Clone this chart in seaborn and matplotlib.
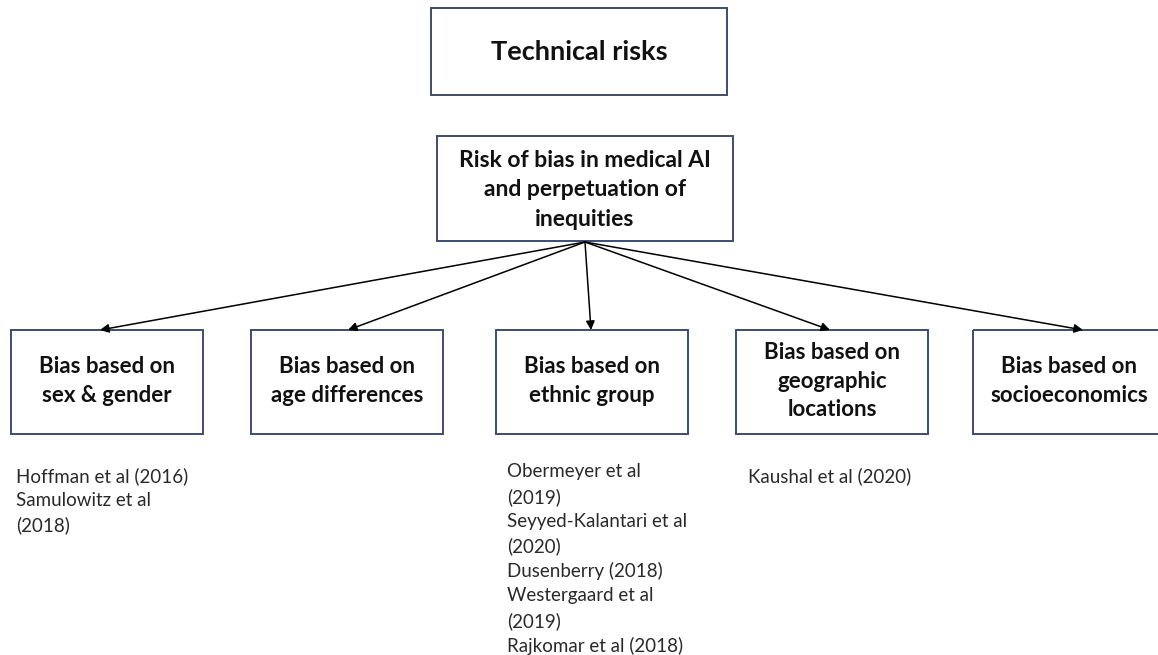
import matplotlib
matplotlib.use("Agg")
import matplotlib.pyplot as plt
from matplotlib.patches import Rectangle
import seaborn as sns

# ---- content ----
title_text = "Technical risks"
root_text = "Risk of bias in medical AI\nand perpetuation of\ninequities"
categories = [
    "Bias based on\nsex & gender",
    "Bias based on\nage differences",
    "Bias based on\nethnic group",
    "Bias based on\ngeographic\nlocations",
    "Bias based on\nsocioeconomics",
]
references = [
    ["Hoffman et al (2016)", "Samulowitz et al", "(2018)"],
    [],
    ["Obermeyer et al", "(2019)", "Seyyed-Kalantari et al", "(2020)",
     "Dusenberry (2018)", "Westergaard et al", "(2019)", "Rajkomar et al (2018)"],
    ["Kaushal et al (2020)"],
    [],
]

# ---- layout (pixels) ----
W, H = 1158, 655
box_left = [11, 251, 496, 736, 973]
box_w, box_top, box_h = 192, 330, 104
arrow_tips = [100, 348, 591, 830, 1083]
ref_x = [16, None, 507, 748, None]
ref_y0 = [476, None, 472, 476, None]
line_step = 24.8

sns.set_theme(style="white")
plt.rcParams["font.family"] = ["Lato", "DejaVu Sans"]

fig = plt.figure(figsize=(W / 100, H / 100), dpi=100)
ax = fig.add_axes([0, 0, 1, 1])
ax.set_xlim(0, W)
ax.set_ylim(H, 0)
ax.axis("off")

edge = "#3E4C6D"

def box(x, y, w, h):
    ax.add_patch(Rectangle((x, y), w, h, fill=False, edgecolor=edge, lw=1.4))

# title
box(431, 8, 296, 87)
ax.text(579, 52, title_text, ha="center", va="center", fontsize=19.5,
        fontweight="bold", color="#111111")

# root
box(437, 136, 296, 105)
ax.text(585, 190, root_text, ha="center", va="center", fontsize=16.5,
        fontweight="bold", color="#111111", linespacing=1.5)

origin = (585, 242)
for i, cat in enumerate(categories):
    x = box_left[i]
    box(x, box_top, box_w, box_h)
    ax.text(x + box_w / 2, box_top + box_h / 2 - 1, cat, ha="center", va="center",
            fontsize=16, fontweight="bold", color="#111111", linespacing=1.45)
    ax.annotate("", xy=(arrow_tips[i], box_top), xytext=origin,
                arrowprops=dict(arrowstyle="-|>", color="black", lw=1.1,
                                mutation_scale=13, shrinkA=0, shrinkB=0))
    for j, r in enumerate(references[i]):
        ax.text(ref_x[i], ref_y0[i] + j * line_step, r, ha="left", va="center",
                fontsize=13.5, color="#2a2a2a")

fig.savefig("out.png", dpi=100, facecolor="white")
